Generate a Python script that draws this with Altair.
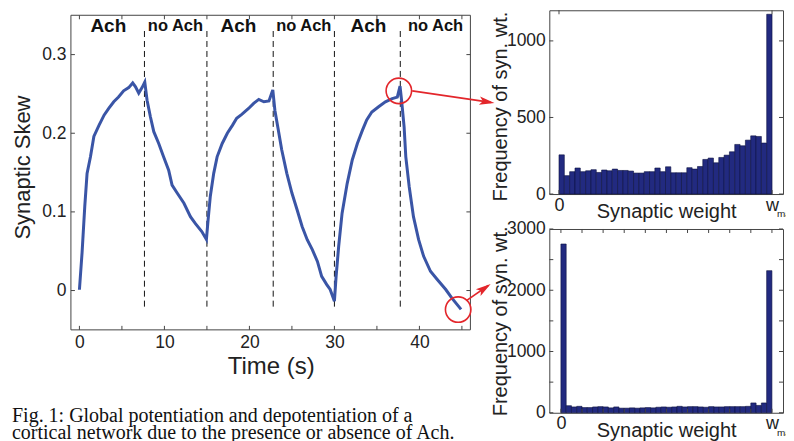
import altair as alt
import pandas as pd

# ---------------- data ----------------
time_s = [0, 0.31, 0.63, 0.9, 1.3, 1.7, 2.3, 2.9, 3.45, 4.04, 4.6, 5.2, 5.8, 6.27, 6.6, 6.98, 7.37, 7.69,
          7.96, 8.35, 8.75, 9.33, 9.9, 10.5, 10.9, 11.5, 12.3, 13.06, 13.65, 14.4, 14.94,
          15.14, 15.4, 15.8, 16.2, 16.8, 17.4, 18.0, 18.5, 19.1, 19.9, 20.5, 21.1, 21.7, 22.3, 22.75,
          23.0, 23.4, 23.8, 24.4, 25.0, 25.6, 26.2, 26.8, 27.4, 28.0, 28.5, 29.1, 29.5, 30.0,
          30.2, 30.5, 30.9, 31.5, 32.1, 32.7, 33.3, 33.8, 34.4, 35.2, 36.0, 36.8, 37.4, 37.72,
          37.9, 38.2, 38.4, 38.8, 39.3, 39.9, 40.5, 41.3, 42.1, 43.1, 43.8, 44.9]
skew = [0.001, 0.048, 0.107, 0.149, 0.170, 0.196, 0.210, 0.223, 0.2315, 0.240, 0.246, 0.254, 0.258, 0.264, 0.259, 0.251, 0.258, 0.265,
        0.242, 0.221, 0.202, 0.187, 0.170, 0.153, 0.134, 0.124, 0.111, 0.094, 0.085, 0.075, 0.065,
        0.090, 0.120, 0.149, 0.170, 0.187, 0.200, 0.210, 0.219, 0.224, 0.2315, 0.238, 0.243, 0.240, 0.241, 0.255,
        0.229, 0.204, 0.179, 0.149, 0.124, 0.103, 0.0815, 0.0646, 0.052, 0.037, 0.018, 0.0076, 0.0013, -0.0135,
        0.018, 0.056, 0.098, 0.136, 0.166, 0.187, 0.204, 0.217, 0.227, 0.2337, 0.240, 0.244, 0.246, 0.260,
        0.242, 0.208, 0.170, 0.132, 0.094, 0.065, 0.0435, 0.0245, 0.014, 0.0013, -0.0093, -0.024]

phase_bounds = [7.65, 15.0, 22.8, 30.0, 37.75]
phase_names = ["Ach", "no Ach", "Ach", "no Ach", "Ach", "no Ach"]
phase_name_t = [3.4, 11.3, 18.7, 26.4, 34.0, 41.9]

x_labels = [0, 10, 20, 30, 40]
x_minor = [0, 5, 10, 15, 20, 25, 30, 35, 40, 45]
y_labels = [0, 0.1, 0.2, 0.3]
x_range = [-1, 46]
y_range = [-0.05, 0.35]

hist_potentiated = [256, 120, 146, 170, 146, 152, 159, 141, 157, 152, 163, 154, 154, 150, 137, 137, 146, 146, 170, 146,
                    178, 139, 139, 139, 172, 163, 180, 226, 235, 204, 239, 254, 276, 324, 315, 352, 380, 376, 333, 1174]
hist_depotentiated = [2755, 115, 95, 105, 85, 85, 95, 100, 95, 80, 95, 75, 75, 80, 75, 80, 85, 80, 90, 95,
                      90, 95, 105, 95, 100, 100, 95, 90, 100, 95, 95, 100, 100, 100, 100, 105, 160, 120, 160, 2320]
top_yticks = [0, 500, 1000]
top_xticks = [0, 40]
bot_ylabels = [0, 1000, 2000, 3000]
bot_yticks = [0, 500, 1000, 1500, 2000, 2500, 3000]
bot_xticks = [0, 4, 8, 12, 16, 20, 24, 28, 32, 36, 40]

caption = ["Fig. 1: Global potentiation and depotentiation of a",
           "cortical network due to the presence or absence of Ach."]

# annotation marks (in data units of the main plot)
circle_t = [37.58, 44.56]
circle_v = [0.2539, -0.0242]
arrow_t0 = [39.15, 45.53]
arrow_v0 = [0.2539, -0.0128]
arrow_t1 = [48.4, 48.1]
arrow_v1 = [0.2393, 0.0064]
head_t = [47.95, 47.65]
head_v = [0.2400, 0.0029]
head_angle = [8.3, 325.4]

# ---------------- style ----------------
FONT = "Liberation Sans"
BLUE = "#3a55a6"
RED = "#e3262b"
INK = "#222222"
FRAME = "#444444"
BAR = "#222a80"

# ---------------- main chart ----------------
W1, H1, TOP = 400, 320, 5          # plot area starts TOP px above the drawn frame
PX_PER_UNIT = 315 / (y_range[1] - y_range[0])
xs = alt.Scale(domain=x_range, nice=False, zero=False)
ys = alt.Scale(domain=[y_range[0], y_range[1] + TOP / PX_PER_UNIT], nice=False, zero=False)
ax_x = alt.Axis(values=x_labels, title="Time (s)", labelPadding=4, labelFlush=False,
                labelFontSize=17.5, titleFontSize=24, titleY=37, titleBaseline="middle", format="d")
ax_y = alt.Axis(values=y_labels, title="Synaptic Skew", labelPadding=5, labelFontSize=17.5,
                labelExpr="datum.value == 0 ? '0' : format(datum.value, '.1f')",
                titleFontSize=22, titleX=-48, titleY=157, titleBaseline="middle")
X = alt.X("t:Q", scale=xs, axis=ax_x)
Y = alt.Y("v:Q", scale=ys, axis=ax_y)

curve_df = pd.DataFrame({"t": time_s, "v": skew})
frame_df = pd.DataFrame({"t": [x_range[0]], "t2": [x_range[1]], "v": [y_range[0]], "v2": [y_range[1]]})
dash_df = pd.DataFrame({"t": phase_bounds, "v": [0.33] * len(phase_bounds), "v2": [-0.024] * len(phase_bounds)})
names_df = pd.DataFrame({"t": phase_name_t, "v": [0.336] * len(phase_names), "name": phase_names,
                         "fs": [19 if n == "Ach" else 16.5 for n in phase_names]})
xt_df = pd.DataFrame({"t": x_minor})
yt_df = pd.DataFrame({"v": y_labels})
circ_df = pd.DataFrame({"t": circle_t, "v": circle_v})
arr_df = pd.DataFrame({"t": arrow_t0, "v": arrow_v0, "t2": arrow_t1, "v2": arrow_v1})
head_df = pd.DataFrame({"t": head_t, "v": head_v, "a": head_angle})

frame = alt.Chart(frame_df).mark_rect(fill="transparent", stroke=FRAME, strokeWidth=1).encode(
    x=X, x2="t2", y=Y, y2="v2")
dashes = alt.Chart(dash_df).mark_rule(color="#111", strokeWidth=1, strokeDash=[6, 4]).encode(x=X, y=Y, y2="v2")
curve = alt.Chart(curve_df).mark_line(color=BLUE, strokeWidth=3).encode(x=X, y=Y)
names = alt.Chart(names_df).mark_text(font=FONT, fontWeight="bold", color="#111", baseline="middle").encode(
    x=X, y=Y, text="name:N", size=alt.Size("fs:Q", scale=None, legend=None))
xt_bot = alt.Chart(xt_df).mark_rule(color=FRAME).encode(x=X, y=alt.value(H1), y2=alt.value(H1 - 4))
xt_top = alt.Chart(xt_df).mark_rule(color=FRAME).encode(x=X, y=alt.value(TOP), y2=alt.value(TOP + 4))
yt_left = alt.Chart(yt_df).mark_rule(color=FRAME).encode(y=Y, x=alt.value(0), x2=alt.value(4))
yt_right = alt.Chart(yt_df).mark_rule(color=FRAME).encode(y=Y, x=alt.value(W1), x2=alt.value(W1 - 4))
circles = alt.Chart(circ_df).mark_point(shape="circle", filled=False, color=RED, size=650, strokeWidth=1.6,
                                         opacity=1, clip=False).encode(x=X, y=Y)
arrows = alt.Chart(arr_df).mark_rule(color=RED, strokeWidth=1.6, clip=False).encode(x=X, y=Y, x2="t2", y2="v2")
heads = alt.Chart(head_df).mark_point(shape="M1,0L-1,-0.55L-0.55,0L-1,0.55Z", filled=True, color=RED,
                                      size=230, opacity=1, clip=False).encode(
    x=X, y=Y, angle=alt.Angle("a:Q", scale=None))

main = alt.layer(frame, dashes, curve, names, xt_bot, xt_top, yt_left, yt_right, circles, arrows, heads).properties(
    width=W1, height=H1, view=alt.ViewConfig(stroke="transparent"),
    title=alt.TitleParams(text=caption, orient="bottom", anchor="start", font="Liberation Serif",
                          fontSize=20, fontWeight="normal", color="#111", offset=27, lineHeight=17, dx=0))


# ---------------- histograms ----------------
def histogram(values, xdomain, ydomain, ylabels, yticks, xticks, title_y, W=234, H=184):
    df = pd.DataFrame({"b": list(range(len(values))), "b2": list(range(1, len(values) + 1)), "n": values})
    Xh = alt.X("b:Q", scale=alt.Scale(domain=xdomain, nice=False, zero=False),
               axis=alt.Axis(values=[0, len(values)], labelExpr="datum.value == 0 ? '0' : 'w'",
                             labelFontSize=18, labelPadding=2, labelFlush=False,
                             title="Synaptic weight", titleFontSize=20, titleY=17.5, titleBaseline="middle"))
    Yh = alt.Y("n:Q", scale=alt.Scale(domain=ydomain, nice=False, zero=False),
               axis=alt.Axis(values=ylabels, labelFontSize=17.5, labelPadding=4, format="d",
                             title="Frequency of syn. wt.", titleFontSize=20, titleX=-49, titleY=title_y,
                             titleBaseline="middle"))
    bars = alt.Chart(df).mark_bar(fill=BAR, stroke="#0b103f", strokeWidth=0.6).encode(
        x=Xh, x2="b2", y=Yh, y2=alt.datum(0))
    xt = pd.DataFrame({"b": xticks})
    yt = pd.DataFrame({"n": yticks})
    xb = alt.Chart(xt).mark_rule(color=FRAME).encode(x=Xh, y=alt.value(H), y2=alt.value(H - 4))
    xtp = alt.Chart(xt).mark_rule(color=FRAME).encode(x=Xh, y=alt.value(0), y2=alt.value(4))
    yl = alt.Chart(yt).mark_rule(color=FRAME).encode(y=Yh, x=alt.value(0), x2=alt.value(4))
    yr = alt.Chart(yt).mark_rule(color=FRAME).encode(y=Yh, x=alt.value(W), x2=alt.value(W - 4))
    sub = alt.Chart(pd.DataFrame({"b": [len(values)]})).mark_text(
        text="max", font=FONT, fontSize=10, align="left", baseline="middle", dx=5, color=INK).encode(
        x=Xh, y=alt.value(H + 20))
    return alt.layer(bars, xb, xtp, yl, yr, sub).properties(width=W, height=H)


top_hist = histogram(hist_potentiated, [-1.82, 42.06], [0, 1200], top_yticks, top_yticks, top_xticks, 96)
bot_hist = histogram(hist_depotentiated, [-2.2, 42.1], [0, 3000], bot_ylabels, bot_yticks, bot_xticks, 92)

right_col = alt.vconcat(top_hist, bot_hist, spacing=35, bounds="flush")

# negative right padding: the "max" subscript runs off the right edge, as in the original figure
chart = alt.hconcat(main, right_col, spacing=79, bounds="flush").properties(
    padding={"left": 3, "top": 1, "right": -11, "bottom": 0}
).configure_view(stroke=FRAME, strokeWidth=1).configure_axis(
    domain=False, ticks=False, grid=False, labelFont=FONT, titleFont=FONT,
    labelColor=INK, titleColor=INK, titleFontWeight="normal"
).configure_text(font=FONT)

chart.save("out.html", embed_options={"renderer": "svg", "actions": False})
